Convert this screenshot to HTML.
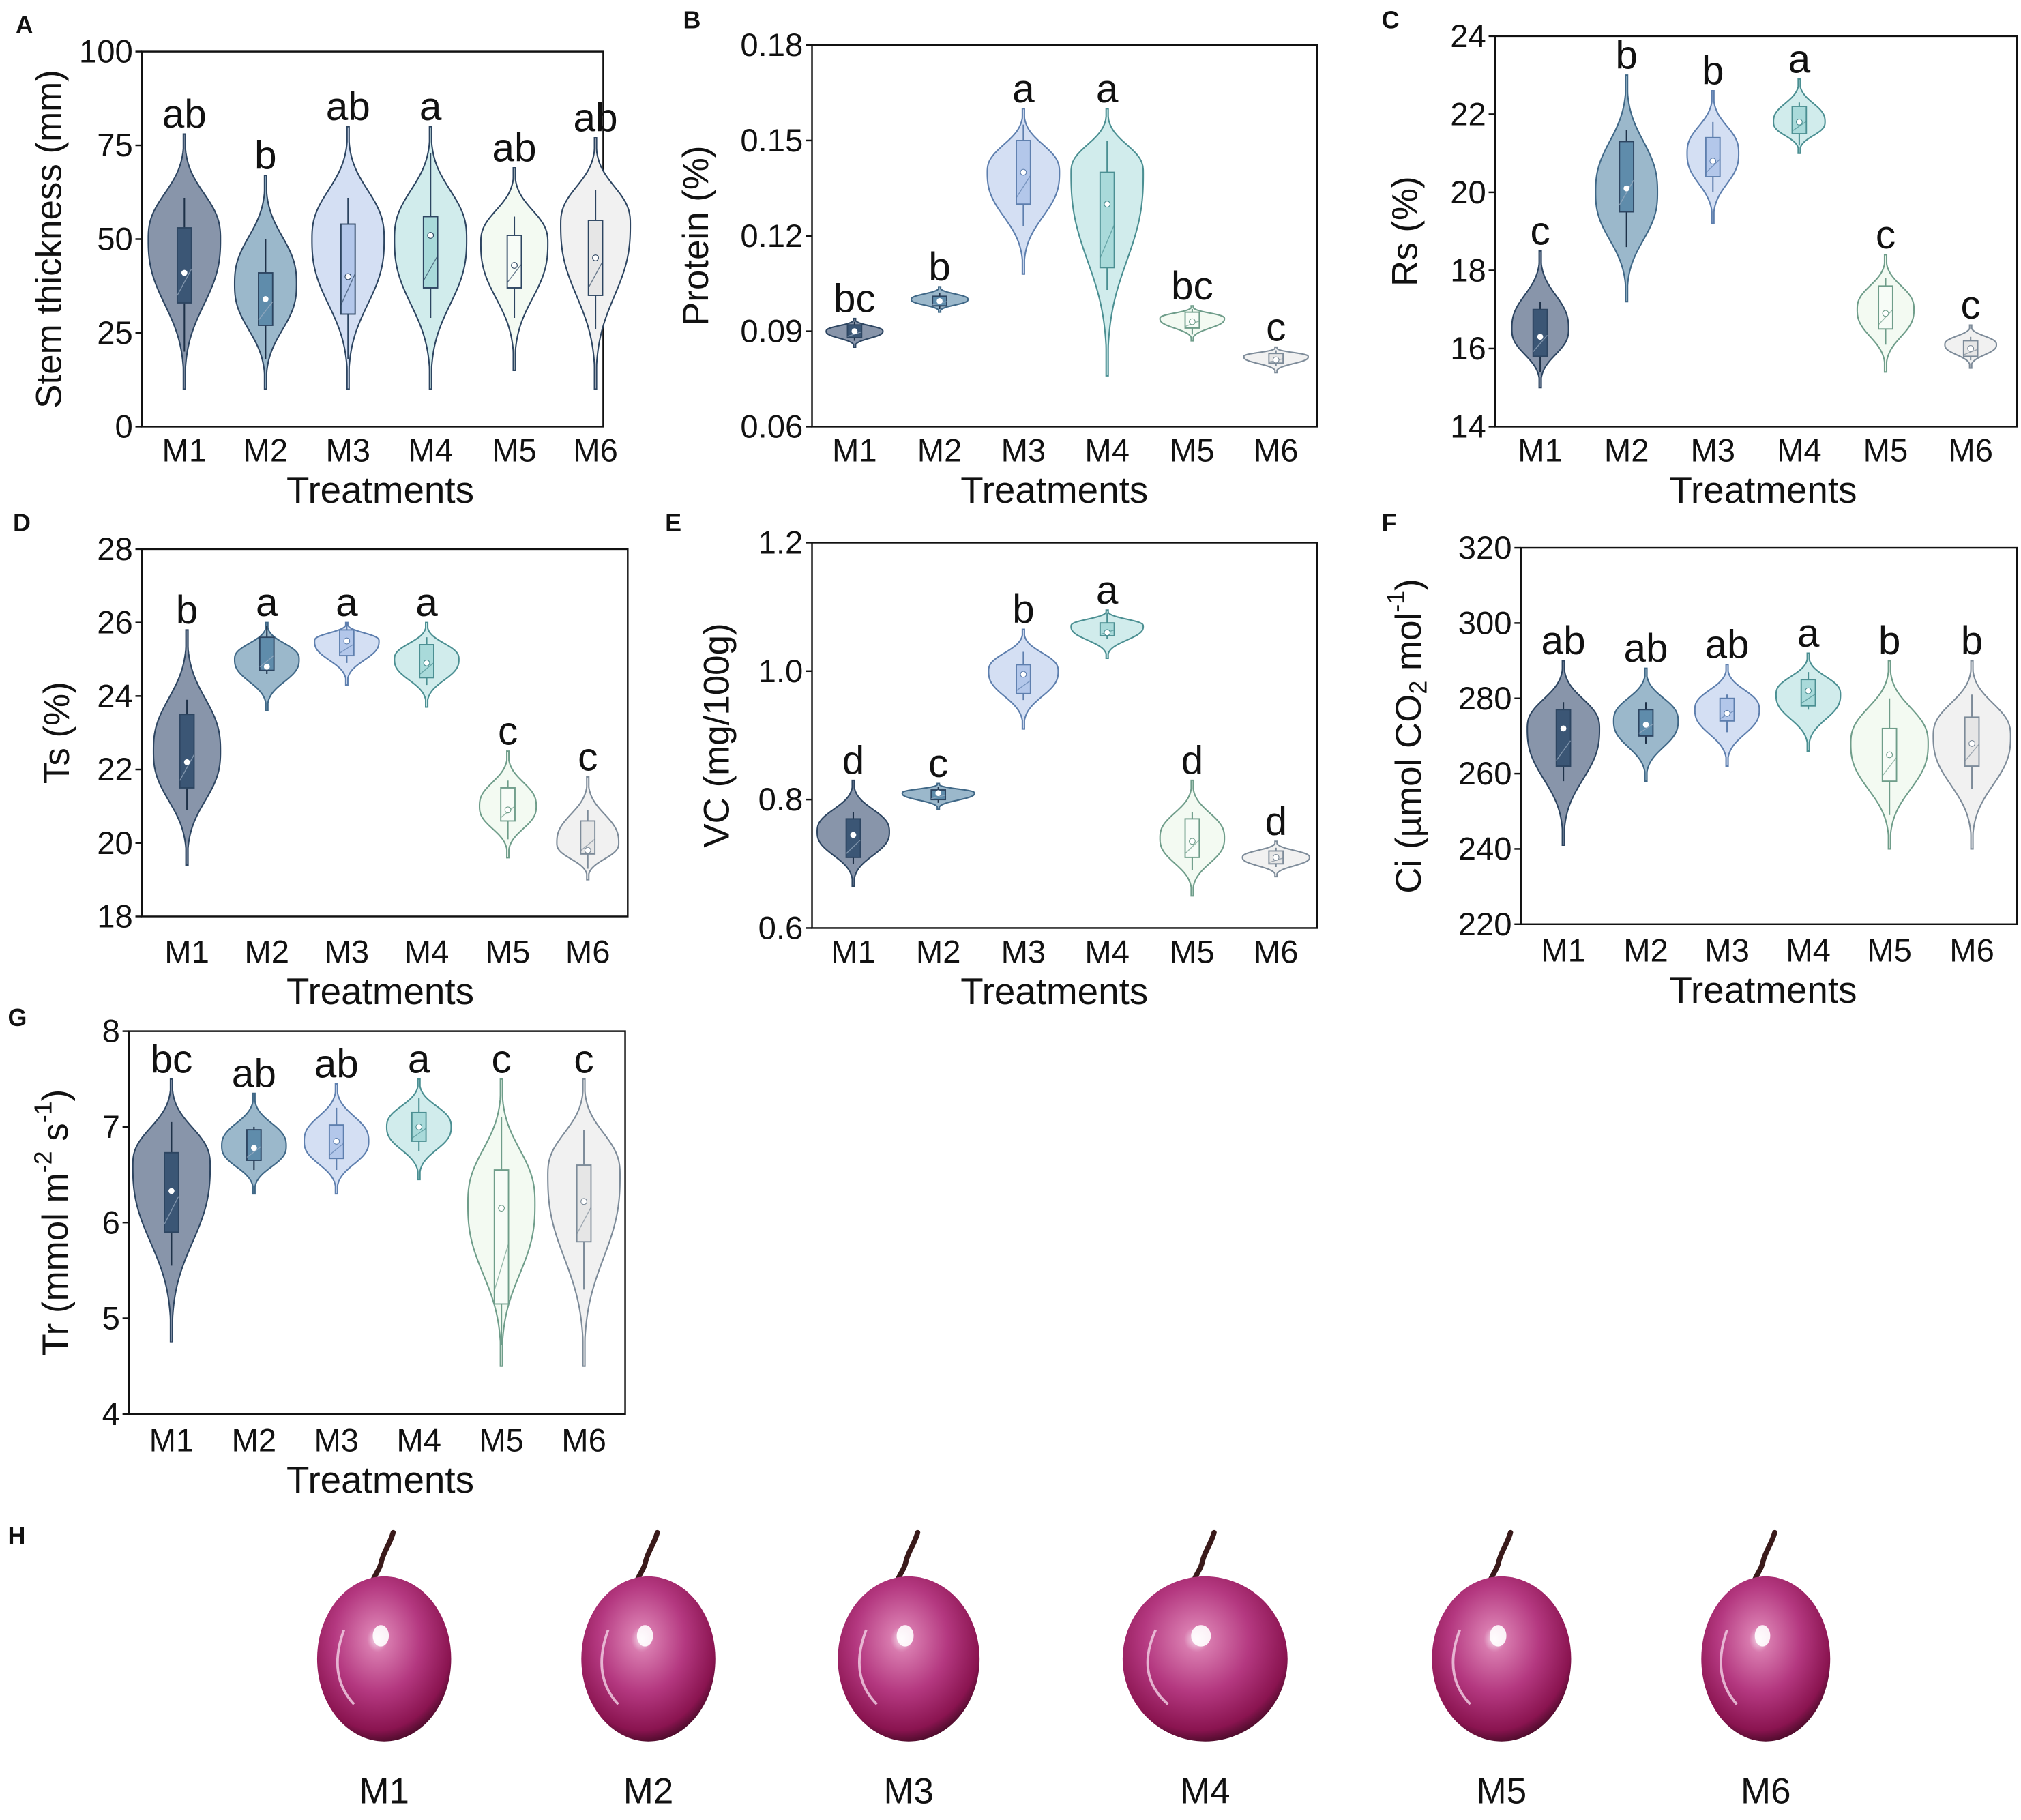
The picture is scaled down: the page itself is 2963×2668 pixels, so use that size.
<!DOCTYPE html>
<html><head><meta charset="utf-8"><style>
html,body{margin:0;padding:0;background:#fff;}
svg{display:block;}
text{font-family:"Liberation Sans Narrow","Liberation Sans",sans-serif;fill:#111;}
.bold{font-family:"Liberation Sans",sans-serif;font-weight:bold;}
</style></head><body>
<svg id="fig" width="2963" height="2668" viewBox="0 0 1568 1412" xmlns="http://www.w3.org/2000/svg">
<defs>
<radialGradient id="grapeGrad" cx="0.45" cy="0.38" r="0.65">
<stop offset="0" stop-color="#f7e0ee"/><stop offset="0.12" stop-color="#d87aae"/>
<stop offset="0.5" stop-color="#b43880"/><stop offset="0.85" stop-color="#8a1450"/><stop offset="1" stop-color="#3e0a22"/>
</radialGradient>
</defs>
<g id="panels"></g>
<g id="grapes"></g>
</svg>
<script>
const categories=["M1","M2","M3","M4","M5","M6"];
// Panel A: Stem thickness
const A_top=[78,67,80,80,69,77], A_bot=[10,10,10,10,15,10], A_peak=[50,38,50,50,49,54], A_w=[28,24,28,28,26,27];
const A_q1=[33,27,30,37,37,35], A_q3=[53,41,54,56,51,55], A_lo=[20,18,18,29,29,26], A_hi=[61,50,61,73,56,63], A_mean=[41,34,40,51,43,45];
const A_letters=["ab","b","ab","a","ab","ab"], A_ticks=[0,25,50,75,100];
// Panel B: Protein
const B_top=[.094,.104,.160,.160,.098,.085], B_bot=[.085,.096,.108,.076,.087,.077], B_peak=[.09,.1,.14,.14,.094,.082], B_w=[22,22,28,28,25,25];
const B_q1=[.088,.098,.130,.110,.091,.080], B_q3=[.092,.101,.150,.140,.096,.083], B_lo=[.087,.097,.123,.103,.089,.079], B_hi=[.093,.102,.155,.150,.097,.084], B_mean=[.09,.0995,.140,.130,.093,.081];
const B_letters=["bc","b","a","a","bc","c"], B_ticks=[0.06,0.09,0.12,0.15,0.18];
// Panel C: Rs
const C_top=[18.5,23,22.6,22.9,18.4,16.6], C_bot=[15,17.2,19.2,21,15.4,15.5], C_peak=[16.5,20,21,21.8,17,16.1], C_w=[22,24,20,20,22,20];
const C_q1=[15.8,19.5,20.4,21.5,16.5,15.8], C_q3=[17,21.3,21.4,22.2,17.6,16.2], C_lo=[15.4,18.6,20,21.2,16.1,15.7], C_hi=[17.2,21.6,21.8,22.3,17.8,16.3], C_mean=[16.3,20.1,20.8,21.8,16.9,16.0];
const C_letters=["c","b","b","a","c","c"], C_ticks=[14,16,18,20,22,24];
// Panel D: Ts
const D_top=[25.8,26,26,26,22.5,21.8], D_bot=[19.4,23.6,24.3,23.7,19.6,19], D_peak=[22.5,25,25.5,25,21,20], D_w=[26,25,25,25,22,24];
const D_q1=[21.5,24.7,25.1,24.5,20.6,19.7], D_q3=[23.5,25.6,25.8,25.4,21.5,20.6], D_lo=[20.9,24.6,24.9,24.3,20.1,19.3], D_hi=[23.9,25.9,26,25.6,21.7,20.9], D_mean=[22.2,24.8,25.5,24.9,20.9,19.8];
const D_letters=["b","a","a","a","c","c"], D_ticks=[18,20,22,24,26,28];
// Panel E: VC
const E_top=[.83,.825,1.065,1.095,.83,.735], E_bot=[.665,.785,.91,1.02,.65,.68], E_peak=[.75,.81,1.0,1.07,.74,.71], E_w=[28,28,27,28,25,26];
const E_q1=[.71,.80,.965,1.055,.71,.70], E_q3=[.77,.815,1.01,1.075,.77,.72], E_lo=[.70,.795,.955,1.05,.69,.695], E_hi=[.78,.82,1.03,1.09,.78,.725], E_mean=[.745,.81,.995,1.06,.735,.71];
const E_letters=["d","c","b","a","d","d"], E_ticks=[0.6,0.8,1.0,1.2];
// Panel F: Ci
const F_top=[290,288,289,292,290,290], F_bot=[241,258,262,266,240,240], F_peak=[272,274,277,281,268,270], F_w=[28,25,25,25,30,30];
const F_q1=[262,270,274,278,258,262], F_q3=[277,277,280,285,272,275], F_lo=[258,268,271,277,249,256], F_hi=[279,279,281,287,280,281], F_mean=[272,273,276,282,265,268];
const F_letters=["ab","ab","ab","a","b","b"], F_ticks=[220,240,260,280,300,320];
// Panel G: Tr
const G_top=[7.5,7.35,7.45,7.5,7.5,7.5], G_bot=[4.75,6.3,6.3,6.45,4.5,4.5], G_peak=[6.6,6.8,6.85,7.0,6.2,6.5], G_w=[30,25,25,25,26,28];
const G_q1=[5.9,6.65,6.67,6.85,5.15,5.8], G_q3=[6.73,6.97,7.02,7.15,6.55,6.6], G_lo=[5.55,6.55,6.55,6.75,4.72,5.3], G_hi=[7.05,7.0,7.2,7.3,7.1,6.97], G_mean=[6.33,6.78,6.85,7.0,6.15,6.22];
const G_letters=["bc","ab","ab","a","c","c"], G_ticks=[4,5,6,7,8];

const violinFill=['#8895aa','#9bb8cb','#d4dff3','#d1ecec','#f3faf2','#f1f1f1'];
const boxFill=['#3b5675','#5f8cab','#b3c7ea','#a9dada','#f7fcf7','#e6e6e6'];
const lineCol=['#2d4561','#3f6786','#5e7fae','#4b8f92','#6f9d8a','#7d8b99'];
const NS='http://www.w3.org/2000/svg';
function mk(tag,attrs,parent){const e=document.createElementNS(NS,tag);for(const k in attrs)e.setAttribute(k,attrs[k]);parent.appendChild(e);return e;}
const root=document.getElementById('panels');

const panels=[
 {id:'a',letter:'A',lx:12,ly:26,x0:110,x1:468,y0:40,y1:331,min:0,max:100,cx:[143,206,270,334,399,462],ticks:A_ticks,fmt:v=>String(v),d:[A_top,A_bot,A_peak,A_w,A_q1,A_q3,A_lo,A_hi,A_mean,A_letters],title:'Stem thickness (mm)',tx:40,dark:true,lo2:0,ttx:295},
 {id:'b',letter:'B',lx:530,ly:22,x0:630,x1:1022,y0:35,y1:331,min:0.06,max:0.18,cx:[663,729,794,859,925,990],ticks:B_ticks,fmt:v=>v.toFixed(2),d:[B_top,B_bot,B_peak,B_w,B_q1,B_q3,B_lo,B_hi,B_mean,B_letters],title:'Protein (%)',tx:542,lo2:0,ttx:818},
 {id:'c',letter:'C',lx:1072,ly:22,x0:1160,x1:1565,y0:28,y1:331,min:14,max:24,cx:[1195,1262,1329,1396,1463,1529],ticks:C_ticks,fmt:v=>String(v),d:[C_top,C_bot,C_peak,C_w,C_q1,C_q3,C_lo,C_hi,C_mean,C_letters],title:'Rs (%)',tx:1092,lo2:0,ttx:1368},
 {id:'d',letter:'D',lx:10,ly:412,x0:110,x1:487,y0:426,y1:711,min:18,max:28,cx:[145,207,269,331,394,456],ticks:D_ticks,fmt:v=>String(v),d:[D_top,D_bot,D_peak,D_w,D_q1,D_q3,D_lo,D_hi,D_mean,D_letters],title:'Ts (%)',tx:46,lo2:9,ttx:295},
 {id:'e',letter:'E',lx:516,ly:412,x0:630,x1:1022,y0:421,y1:720,min:0.6,max:1.2,cx:[662,728,794,859,925,990],ticks:E_ticks,fmt:v=>v.toFixed(1),d:[E_top,E_bot,E_peak,E_w,E_q1,E_q3,E_lo,E_hi,E_mean,E_letters],title:'VC (mg/100g)',tx:558,lo2:0,ttx:818},
 {id:'f',letter:'F',lx:1072,ly:412,x0:1180,x1:1565,y0:425,y1:717,min:220,max:320,cx:[1213,1277,1340,1403,1466,1530],ticks:F_ticks,fmt:v=>String(v),d:[F_top,F_bot,F_peak,F_w,F_q1,F_q3,F_lo,F_hi,F_mean,F_letters],title:'ci',tx:1095,lo2:2,ttx:1368},
 {id:'g',letter:'G',lx:6,ly:796,x0:100,x1:485,y0:800,y1:1097,min:4,max:8,cx:[133,197,261,325,389,453],ticks:G_ticks,fmt:v=>String(v),d:[G_top,G_bot,G_peak,G_w,G_q1,G_q3,G_lo,G_hi,G_mean,G_letters],title:'tr',tx:45,lo2:2,ttx:295}
];

function violinPath(cx,yT,yB,yP,W){
  const n=70,su=Math.max((yP-yT)/1.9,1),sd=Math.max((yB-yP)/1.9,1);const R=[],L=[];
  for(let i=0;i<=n;i++){const y=yT+(yB-yT)*i/n;const s=y<yP?su:sd;const w=Math.max(W*Math.exp(-Math.pow(Math.abs(y-yP)/s,2.6)),0.8);R.push([cx+w,y]);L.push([cx-w,y]);}
  let d='M'+R.map(p=>p[0].toFixed(2)+','+p[1].toFixed(2)).join(' L');
  d+=' L'+L.reverse().map(p=>p[0].toFixed(2)+','+p[1].toFixed(2)).join(' L')+' Z';return d;
}

panels.forEach(P=>{
  const g=mk('g',{},root);
  
  
  const ys=v=>P.y1-(v-P.min)/(P.max-P.min)*(P.y1-P.y0);
  const pl=mk('text',{x:P.lx,y:P.ly,'font-size':19,class:'bold'},g);pl.textContent=P.letter;
  
  
  const fr=mk('rect',{x:P.x0,y:P.y0,width:P.x1-P.x0,height:P.y1-P.y0,fill:'none',stroke:'#111','stroke-width':1.3},g);
  
  
  P.ticks.forEach(t=>{const y=ys(t);
    mk('line',{x1:P.x0-5,x2:P.x0,y1:y,y2:y,stroke:'#111','stroke-width':1.3},g);
    const tl=mk('text',{x:P.x0-7,y:y+8.5,'font-size':25,'text-anchor':'end'},g);tl.textContent=P.fmt(t);
    
    
  });
  const [top,bot,peak,W,q1,q3,lo,hi,mean,letters]=P.d;
  categories.forEach((c,i)=>{
    const cx=P.cx[i];const oc=P.dark?'#2d4561':lineCol[i];
    const vg=mk('g',{},g);
    
    
    mk('path',{d:violinPath(cx,ys(top[i]),ys(bot[i]),ys(peak[i]),W[i]),fill:violinFill[i],stroke:oc,'stroke-width':1.1},vg);
    mk('line',{x1:cx,x2:cx,y1:ys(lo[i]),y2:ys(hi[i]),stroke:i<2?'#1e3148':oc,'stroke-width':1.1},vg);
    const bw=11,yq3=ys(q3[i]),yq1=ys(q1[i]);
    mk('rect',{x:cx-bw/2,y:yq3,width:bw,height:Math.max(yq1-yq3,1),fill:boxFill[i],stroke:i<2?'#2d4561':oc,'stroke-width':1},vg);
    mk('line',{x1:cx-bw/2,y1:yq1-(yq1-yq3)*0.1,x2:cx+bw/2,y2:yq3+(yq1-yq3)*0.55,stroke:i<2?'#9fb0c4':oc,'stroke-width':0.7,opacity:0.7},vg);
    mk('circle',{cx:cx,cy:ys(mean[i]),r:2.3,fill:'#fff',stroke:i<2?'none':oc,'stroke-width':0.6},vg);
    const lt=mk('text',{x:cx,y:ys(top[i])-5,'font-size':31,'text-anchor':'middle'},g);lt.textContent=letters[i];
    
    
    const xl=mk('text',{x:cx,y:P.y1+27+P.lo2,'font-size':25,'text-anchor':'middle'},g);xl.textContent=c;
    
    
  });
  const xt=mk('text',{x:P.ttx,y:P.y1+59+P.lo2,'font-size':29,'text-anchor':'middle'},g);xt.textContent='Treatments';
  
  
  const cy=(P.y0+P.y1)/2;
  const yt=mk('text',{x:P.tx,y:cy,'font-size':28,'text-anchor':'middle',transform:'rotate(-90 '+P.tx+' '+cy+')','dominant-baseline':'middle'},g);
  
  
  if(P.title==='ci'){yt.innerHTML='Ci (µmol CO<tspan font-size="19" dy="7">2</tspan><tspan dy="-7"> mol</tspan><tspan font-size="19" dy="-10">-1</tspan><tspan dy="10">)</tspan>';}
  else if(P.title==='tr'){yt.innerHTML='Tr (mmol m<tspan font-size="19" dy="-10">-2</tspan><tspan dy="10"> s</tspan><tspan font-size="19" dy="-10">-1</tspan><tspan dy="10">)</tspan>';}
  else yt.textContent=P.title;
});

// Panel H grapes
const grapeCx=[298,503,705,935,1165,1370];
const grapeRx=[52,52,55,64,54,50];
const gr=document.getElementById('grapes');


const hl=mk('text',{x:6,y:1198,'font-size':19,class:'bold'},gr);hl.textContent='H';


categories.forEach((c,i)=>{
  const cx=grapeCx[i],cy=1287,rx=grapeRx[i],ry=64;
  const gg=mk('g',{},gr);
  
  
  mk('path',{d:`M${cx-10},${cy-ry+6} C${cx-7},${cy-ry-2} ${cx-3},${cy-ry-6} ${cx-2},${cy-ry-12} C${cx},${cy-ry-20} ${cx+4},${cy-ry-24} ${cx+7},${cy-ry-34}`,fill:'none',stroke:'#3a1a1a','stroke-width':4,'stroke-linecap':'round'},gg);
  mk('ellipse',{cx:cx,cy:cy,rx:rx,ry:ry,fill:'url(#grapeGrad)'},gg);
  mk('ellipse',{cx:cx-rx*0.05,cy:cy-ry*0.28,rx:rx*0.12,ry:ry*0.13,fill:'#fff',opacity:0.9},gg);
  mk('path',{d:`M${cx-rx*0.6},${cy-ry*0.35} Q${cx-rx*0.85},${cy+ry*0.2} ${cx-rx*0.45},${cy+ry*0.55}`,fill:'none',stroke:'#f3d3e6','stroke-width':2,opacity:0.8},gg);
  const t=mk('text',{x:cx,y:1399,'font-size':28,'text-anchor':'middle'},gr);t.textContent=c;
  
  
});
</script>
</body></html>
